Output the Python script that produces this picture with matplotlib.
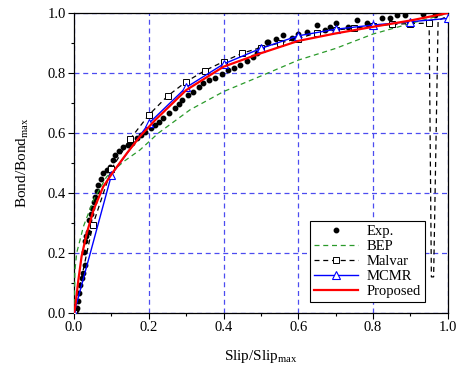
import numpy as np
import matplotlib
matplotlib.use('Agg')
import matplotlib.pyplot as plt
from matplotlib.ticker import MultipleLocator

plt.rcParams['font.family'] = ['Liberation Serif', 'DejaVu Serif']
plt.rcParams['mathtext.fontset'] = 'custom'
plt.rcParams['mathtext.rm'] = 'Liberation Serif'

exp_x = [0.004, 0.007, 0.010, 0.012, 0.016, 0.020, 0.025, 0.029, 0.027, 0.029, 0.033,
         0.038, 0.041, 0.044, 0.047, 0.052, 0.056, 0.060, 0.065, 0.072, 0.078, 0.088,
         0.096, 0.104, 0.110, 0.120, 0.132, 0.143, 0.154, 0.168, 0.178, 0.190, 0.205,
         0.217, 0.228, 0.239, 0.255, 0.270, 0.280, 0.288, 0.305, 0.319, 0.333, 0.346,
         0.362, 0.377, 0.395, 0.413, 0.428, 0.444, 0.462, 0.479, 0.490, 0.497, 0.515,
         0.520, 0.540, 0.560, 0.582, 0.600, 0.622, 0.649, 0.671, 0.685, 0.702, 0.733,
         0.756, 0.783, 0.823, 0.845, 0.863, 0.885, 0.934, 0.965]
exp_y = [0.010, 0.016, 0.040, 0.066, 0.093, 0.115, 0.132, 0.160, 0.204, 0.238, 0.255,
         0.271, 0.310, 0.330, 0.349, 0.370, 0.388, 0.405, 0.427, 0.445, 0.466, 0.478,
         0.488, 0.510, 0.527, 0.540, 0.554, 0.560, 0.566, 0.582, 0.592, 0.604, 0.615,
         0.627, 0.638, 0.649, 0.665, 0.682, 0.695, 0.710, 0.725, 0.738, 0.752, 0.766,
         0.775, 0.782, 0.796, 0.810, 0.818, 0.827, 0.840, 0.854, 0.865, 0.882, 0.904,
         0.904, 0.915, 0.927, 0.916, 0.930, 0.938, 0.960, 0.943, 0.955, 0.966, 0.954,
         0.977, 0.966, 0.982, 0.985, 0.993, 0.993, 0.996, 0.993]

# BEP model
bep_x = [0.0, 0.002, 0.007, 0.025, 0.052, 0.087, 0.132, 0.176, 0.225, 0.31, 0.40,
         0.50, 0.60, 0.70, 0.80, 0.90, 0.983, 1.0]
bep_y = [0.0, 0.14, 0.20, 0.288, 0.377, 0.454, 0.504, 0.543, 0.599, 0.677, 0.738,
         0.790, 0.843, 0.882, 0.930, 0.965, 0.993, 1.0]

# Malvar model (with the jump near slip = 0.96)
malvar_x = [0.0, 0.05, 0.10, 0.15, 0.20, 0.25, 0.30, 0.35, 0.40, 0.45, 0.50, 0.55,
            0.60, 0.65, 0.70, 0.75, 0.80, 0.85, 0.90, 0.95, 0.956, 0.962, 0.974, 1.0]
malvar_y = [0.0, 0.293, 0.48, 0.58, 0.66, 0.723, 0.771, 0.808, 0.838, 0.866, 0.885,
            0.90, 0.915, 0.934, 0.943, 0.950, 0.957, 0.962, 0.965, 0.966, 0.12, 0.12,
            0.975, 0.99]
malvar_marks = list(range(0, 20))

# MCMR model
mcmr_x = [0.0, 0.1, 0.2, 0.3, 0.4, 0.5, 0.6, 0.7, 0.8, 0.9, 1.0]
mcmr_y = [0.0, 0.46, 0.632, 0.752, 0.830, 0.882, 0.924, 0.946, 0.960, 0.971, 0.982]

# proposed model
prop_x = [0.0, 0.003, 0.0115, 0.02, 0.034, 0.052, 0.078, 0.105, 0.141, 0.176, 0.217,
          0.30, 0.40, 0.50, 0.60, 0.70, 0.80, 0.90, 1.0]
prop_y = [0.0, 0.021, 0.11, 0.188, 0.266, 0.343, 0.421, 0.471, 0.532, 0.588, 0.643,
          0.743, 0.821, 0.866, 0.907, 0.932, 0.954, 0.975, 1.0]

fig = plt.figure(figsize=(4.66, 3.72), dpi=100)
ax = fig.add_axes([0.159, 0.159, 0.802, 0.806])

ax.plot(exp_x, exp_y, 'o', color='black', markersize=3.2, label='Exp.', zorder=2)
ax.plot(bep_x, bep_y, '--', color='#2a9a2a', lw=0.9, dashes=(4, 3), label='BEP', zorder=3)
ax.plot(malvar_x, malvar_y, '--', color='black', lw=0.9, dashes=(4, 3), marker='s',
        markevery=malvar_marks, markersize=5, markerfacecolor='white',
        markeredgecolor='black', markeredgewidth=0.7, label='Malvar', zorder=4)
ax.plot(mcmr_x, mcmr_y, '-', color='blue', lw=1.0, marker='^', markersize=6,
        markerfacecolor='white', markeredgecolor='blue', markeredgewidth=0.8,
        label='MCMR', zorder=5)
ax.plot(prop_x, prop_y, '-', color='red', lw=1.6, label='Proposed', zorder=6)

ax.set_xlim(0, 1.0)
ax.set_ylim(0, 1.0)
ax.xaxis.set_major_locator(MultipleLocator(0.2))
ax.xaxis.set_minor_locator(MultipleLocator(0.1))
ax.yaxis.set_major_locator(MultipleLocator(0.2))
ax.yaxis.set_minor_locator(MultipleLocator(0.1))
ax.xaxis.set_major_formatter(plt.FormatStrFormatter('%.1f'))
ax.yaxis.set_major_formatter(plt.FormatStrFormatter('%.1f'))
ax.tick_params(which='major', direction='out', length=4, width=0.8, labelsize=10.5,
               top=False, right=False, pad=2)
ax.tick_params(which='minor', direction='out', length=2.5, width=0.8, top=False, right=False)
ax.grid(True, which='major', color='#4c4cf0', linestyle=(0, (4, 3)), lw=0.9)
for s in ax.spines.values():
    s.set_linewidth(0.9)

ax.set_xlabel('Slip/Slip$_{\\mathrm{max}}$', fontsize=11, labelpad=10)
ax.set_ylabel('Bond/Bond$_{\\mathrm{max}}$', fontsize=11, labelpad=12)

leg = ax.legend(loc='lower right', bbox_to_anchor=(0.94, 0.035), fontsize=10.5,
                frameon=True, fancybox=False, edgecolor='black', framealpha=1,
                handlelength=3.0, handletextpad=0.6, borderpad=0.3, labelspacing=0.12,
                borderaxespad=0)
leg.get_frame().set_linewidth(0.8)

fig.savefig('out.png', dpi=100)
